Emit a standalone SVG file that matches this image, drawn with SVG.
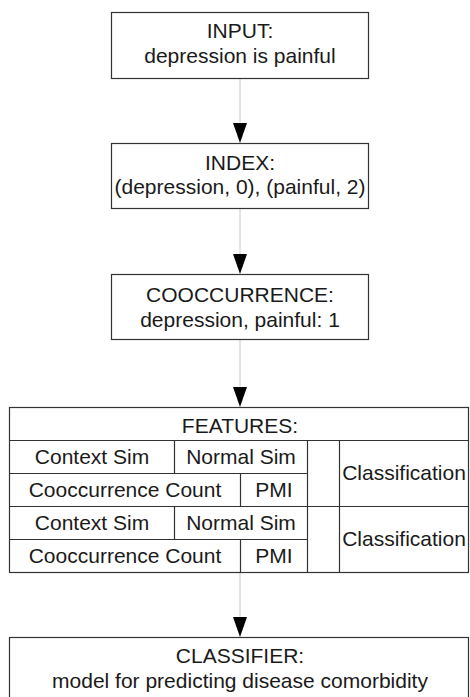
<svg xmlns="http://www.w3.org/2000/svg" width="470" height="697" viewBox="0 0 470 697">
<defs>
<style>
text{font-family:"Liberation Sans",Arial,sans-serif;font-size:21px;fill:#1a1a1a;text-anchor:middle}
.box{fill:#fff;stroke:#333;stroke-width:1.2}
.cell{fill:none;stroke:#333;stroke-width:1.2}
.conn{stroke:#c8c8c8;stroke-width:1;fill:none}
.head{fill:#000}
</style>
</defs>
<rect width="470" height="697" fill="#fff"/>
<g id="connectors">
<line class="conn" x1="240" y1="78" x2="240" y2="125"/>
<polygon class="head" points="233,123 247,123 240,143"/>
<line class="conn" x1="240" y1="208" x2="240" y2="256"/>
<polygon class="head" points="233,254 247,254 240,274"/>
<line class="conn" x1="240" y1="340" x2="240" y2="389"/>
<polygon class="head" points="233,387 247,387 240,407"/>
<line class="conn" x1="240" y1="572" x2="240" y2="619"/>
<polygon class="head" points="233,617 247,617 240,637"/>
<line class="conn" x1="307" y1="473" x2="318" y2="473"/>
<polygon class="head" points="317,466 317,480 339,473"/>
<line class="conn" x1="307" y1="539" x2="318" y2="539"/>
<polygon class="head" points="317,532 317,546 339,539"/>
</g>
<g id="input">
<rect class="box" x="111.5" y="12.5" width="257" height="66"/>
<text x="240" y="38">INPUT:</text>
<text x="240" y="63">depression is painful</text>
</g>
<g id="index">
<rect class="box" x="111.5" y="143.5" width="257" height="65"/>
<text x="240" y="170">INDEX:</text>
<text x="240" y="194">(depression, 0), (painful, 2)</text>
</g>
<g id="cooccurrence">
<rect class="box" x="111.5" y="274.5" width="257" height="65"/>
<text x="240" y="302">COOCCURRENCE:</text>
<text x="240" y="327">depression, painful: 1</text>
</g>
<g id="features">
<rect class="box" x="9.5" y="407.5" width="459" height="165"/>
<text x="240" y="433">FEATURES:</text>
<line class="cell" x1="9.5" y1="440.5" x2="468.5" y2="440.5"/>
<line class="cell" x1="9.5" y1="473.5" x2="307.5" y2="473.5"/>
<line class="cell" x1="9.5" y1="506.5" x2="468.5" y2="506.5"/>
<line class="cell" x1="9.5" y1="539.5" x2="307.5" y2="539.5"/>
<line class="cell" x1="307.5" y1="440.5" x2="307.5" y2="572.5"/>
<line class="cell" x1="339.5" y1="440.5" x2="339.5" y2="572.5"/>
<line class="cell" x1="174.5" y1="440.5" x2="174.5" y2="473.5"/>
<line class="cell" x1="240.5" y1="473.5" x2="240.5" y2="506.5"/>
<line class="cell" x1="174.5" y1="506.5" x2="174.5" y2="539.5"/>
<line class="cell" x1="240.5" y1="539.5" x2="240.5" y2="572.5"/>
<text x="92" y="464">Context Sim</text>
<text x="241" y="464">Normal Sim</text>
<text x="125" y="497">Cooccurrence Count</text>
<text x="274" y="497">PMI</text>
<text x="92" y="530">Context Sim</text>
<text x="241" y="530">Normal Sim</text>
<text x="125" y="563">Cooccurrence Count</text>
<text x="274" y="563">PMI</text>
</g>
<g id="classification1">
<text x="404" y="480">Classification</text>
</g>
<g id="classification2">
<text x="404" y="546">Classification</text>
</g>
<g id="classifier">
<rect class="box" x="9.5" y="637.5" width="459" height="62"/>
<text x="240" y="663">CLASSIFIER:</text>
<text x="240" y="688">model for predicting disease comorbidity</text>
</g>
</svg>
